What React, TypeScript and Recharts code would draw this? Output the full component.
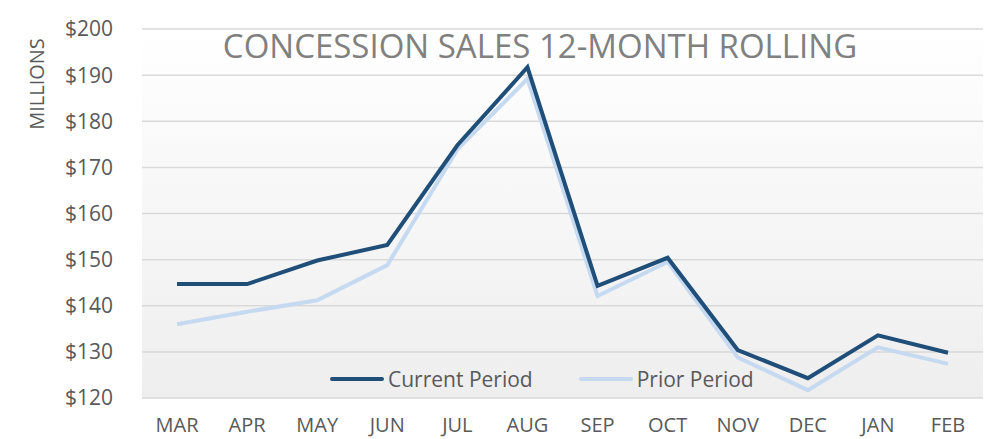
import { LineChart, Line, XAxis, YAxis, CartesianGrid } from 'recharts';

const months = ['MAR', 'APR', 'MAY', 'JUN', 'JUL', 'AUG', 'SEP', 'OCT', 'NOV', 'DEC', 'JAN', 'FEB'];
const currentPeriod = [144.7, 144.7, 149.8, 153.2, 174.8, 191.7, 144.3, 150.4, 130.4, 124.3, 133.6, 129.8];
const priorPeriod = [136.0, 138.7, 141.2, 148.8, 173.9, 189.2, 142.1, 149.5, 128.8, 121.7, 131.0, 127.4];
const yTicks = [120, 130, 140, 150, 160, 170, 180, 190, 200];

const data = months.map((m, i) => ({ month: m, current: currentPeriod[i], prior: priorPeriod[i] }));

const FONT = '"Open Sans", sans-serif';
const TEXT = '#595959';

const legendItems = [
  { label: 'Current Period', color: '#1f4e79' },
  { label: 'Prior Period', color: '#c5d9f1' },
];

export default function App() {
  return (
    <div style={{ position: 'absolute', left: 0, top: 0, width: 989, height: 439, background: '#fff' }}>
      <LineChart width={989} height={439} data={data} margin={{ top: 29, right: 6, left: 0, bottom: 0 }}>
        <defs>
          <linearGradient id="plotBg" x1="0" y1="0" x2="0" y2="1">
            <stop offset="0%" stopColor="#ffffff" />
            <stop offset="100%" stopColor="#eeeeee" />
          </linearGradient>
        </defs>
        <CartesianGrid vertical={false} stroke="#d9d9d9" strokeWidth={1.5} fill="url(#plotBg)" />
        <XAxis
          dataKey="month"
          axisLine={false}
          tickLine={false}
          height={41}
          tickMargin={14}
          padding={{ left: 35, right: 35 }}
          interval={0}
          tick={{ fill: TEXT, fontSize: 20, fontFamily: FONT }}
        />
        <YAxis
          domain={[120, 200]}
          ticks={yTicks}
          axisLine={false}
          tickLine={false}
          width={142}
          tickMargin={23}
          tickFormatter={(v) => `$${v}`}
          tick={{ fill: TEXT, fontSize: 21, fontFamily: FONT }}
        />
        <Line
          type="linear"
          dataKey="prior"
          name="Prior Period"
          stroke="#c5d9f1"
          strokeWidth={4}
          dot={false}
          isAnimationActive={false}
        />
        <Line
          type="linear"
          dataKey="current"
          name="Current Period"
          stroke="#1f4e79"
          strokeWidth={4}
          dot={false}
          isAnimationActive={false}
        />
      </LineChart>
      {/* legend sits inside the plot, bottom centre */}
      <div
        style={{
          position: 'absolute',
          left: 330,
          top: 365,
          height: 28,
          display: 'flex',
          alignItems: 'center',
          fontFamily: FONT,
          fontSize: 21,
          color: TEXT,
          whiteSpace: 'nowrap',
        }}
      >
        {legendItems.map((it) => (
          <div key={it.label} style={{ display: 'flex', alignItems: 'center', marginRight: 46 }}>
            <div style={{ width: 54, height: 4, borderRadius: 2, background: it.color, marginRight: 4 }} />
            <span>{it.label}</span>
          </div>
        ))}
      </div>
      <div
        style={{
          position: 'absolute',
          left: 0,
          width: 1080,
          top: 23,
          textAlign: 'center',
          fontFamily: FONT,
          fontSize: 33,
          color: '#808080',
          whiteSpace: 'nowrap',
        }}
      >
        CONCESSION SALES 12-MONTH ROLLING
      </div>
      <div
        style={{
          position: 'absolute',
          left: 36,
          top: 84,
          transform: 'translate(-50%, -50%) rotate(-90deg)',
          fontFamily: FONT,
          fontSize: 20,
          color: TEXT,
          whiteSpace: 'nowrap',
        }}
      >
        MILLIONS
      </div>
    </div>
  );
}
